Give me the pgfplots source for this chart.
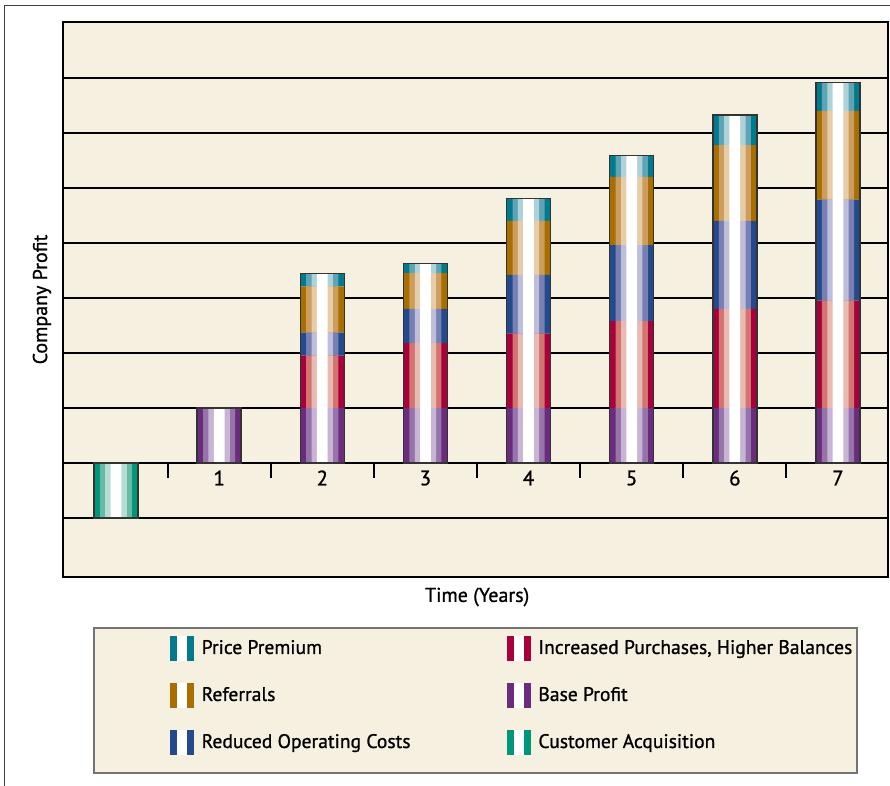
\documentclass[border=0pt]{standalone}
\usepackage{pgfplots}
\usepackage{pgfplotstable}
\pgfplotsset{compat=1.18}
\usepackage{fontspec}
\setmainfont{PT Sans}[FakeBold=1]

\definecolor{bg}{HTML}{F6F0E1}
\definecolor{ppD}{HTML}{007A8C}\definecolor{ppM}{HTML}{5FA4B4}\definecolor{ppL}{HTML}{AED2D8}
\definecolor{rfD}{HTML}{A86E00}\definecolor{rfM}{HTML}{CC9D5E}\definecolor{rfL}{HTML}{E6CDA8}
\definecolor{rcD}{HTML}{234A8D}\definecolor{rcM}{HTML}{7880B3}\definecolor{rcL}{HTML}{BEBDDA}
\definecolor{ipD}{HTML}{A8003A}\definecolor{ipM}{HTML}{D27570}\definecolor{ipL}{HTML}{E9BAB2}
\definecolor{bpD}{HTML}{6C2C7E}\definecolor{bpM}{HTML}{9673A8}\definecolor{bpL}{HTML}{C8B4D4}
\definecolor{caD}{HTML}{00967A}\definecolor{caM}{HTML}{69B9A5}\definecolor{caL}{HTML}{B6DDD4}

% year, customer acquisition, base profit, increased purchases, reduced operating costs, referrals, price premium, total
\pgfplotstableread{
x ca bp ip rc rf pp tot
0 -1 0 0 0 0 0 -1
1 0 1 0 0 0 0 1
2 0 1 0.95 0.42 0.84 0.24 3.45
3 0 1 1.18 0.62 0.65 0.18 3.63
4 0 1 1.35 1.07 0.98 0.41 4.81
5 0 1 1.58 1.38 1.24 0.39 5.59
6 0 1 1.80 1.60 1.38 0.55 6.33
7 0 1 1.95 1.84 1.61 0.52 6.92
}\profit

\pgfplotsset{
  layer/.style={scale only axis, width=412.5pt, height=277.5pt,
    at={(31.5pt,-288.5pt)}, anchor=south west,
    xmin=-0.514, xmax=7.485, ymin=-2.073, ymax=8.018},
  twobar/.style={legend image code/.code={
     \path[draw=none, fill=none] (0pt,-11.75pt) rectangle (12pt,11.75pt);
     \fill[white, draw=none] (3.5pt,-6.25pt) rectangle (8.5pt,6.25pt);
     \fill[#1, draw=none] (0pt,-6.25pt) rectangle (3.5pt,6.25pt);
     \fill[#1, draw=none] (8.5pt,-6.25pt) rectangle (12pt,6.25pt);}},
}

\begin{document}
\begin{tikzpicture}
\useasboundingbox (0,0) rectangle (445pt,-393pt);
\draw[black!75, line width=0.8pt] (2.25pt,-400pt) -- (2.25pt,-2.85pt) -- (450pt,-2.85pt);
\draw[fill=bg, draw=black!55, line width=0.8pt] (47pt,-314pt) rectangle (428.5pt,-386.5pt);

% layer 1: axis, grid, dark stripes, legend
\begin{axis}[layer,
  axis background/.style={fill=bg},
  axis line style={black, line width=1pt},
  ytick={-1,0,1,2,3,4,5,6,7}, yticklabels={},
  ymajorgrids, grid style={black, line width=1pt},
  major tick length=0pt,
  xtick={1,2,3,4,5,6,7}, xticklabels={1,2,3,4,5,6,7},
  xticklabel style={anchor=center, yshift=49.5pt, font=\fontsize{10.5}{12}\selectfont},
  xlabel={Time (Years)}, ylabel={Company Profit},
  xlabel style={at={(axis description cs:0.502,-0.036)}, anchor=center, font=\fontsize{10}{12}\selectfont},
  ylabel style={at={(axis description cs:-0.0255,0.5)}, anchor=center, font=\fontsize{10}{12}\selectfont},
  ybar stacked, bar width=22pt,
  legend columns=2, legend cell align=left,
  legend style={at={(axis description cs:0.1297,-0.0865)}, anchor=north west,
    draw=none, fill=none, inner sep=0pt, outer sep=0pt, row sep=0pt,
    nodes={inner xsep=0pt, inner ysep=0pt, font=\fontsize{9.8}{11}\selectfont},
    /tikz/every odd column/.append style={column sep=3.85pt},
    /tikz/every even column/.append style={column sep=0pt}},
]
\addplot[forget plot, fill=caD, draw=none] table[x=x,y=ca]{\profit};
\addplot[forget plot, fill=bpD, draw=none] table[x=x,y=bp]{\profit};
\addplot[forget plot, fill=ipD, draw=none] table[x=x,y=ip]{\profit};
\addplot[forget plot, fill=rcD, draw=none] table[x=x,y=rc]{\profit};
\addplot[forget plot, fill=rfD, draw=none] table[x=x,y=rf]{\profit};
\addplot[forget plot, fill=ppD, draw=none] table[x=x,y=pp]{\profit};
\pgfplotsinvokeforeach{0.5,1.5,2.5,3.5,4.5,5.5,6.5}{
  \draw[black, line width=1pt] (axis cs:#1,0) -- ([yshift=-7.5pt]axis cs:#1,0);}
\addlegendimage{twobar=ppD}\addlegendentry{\makebox[152.5pt][l]{Price Premium}}
\addlegendimage{twobar=ipD}\addlegendentry{Increased Purchases, Higher Balances}
\addlegendimage{twobar=rfD}\addlegendentry{\makebox[152.5pt][l]{Referrals}}
\addlegendimage{twobar=bpD}\addlegendentry{Base Profit}
\addlegendimage{twobar=rcD}\addlegendentry{\makebox[152.5pt][l]{Reduced Operating Costs}}
\addlegendimage{twobar=caD}\addlegendentry{Customer Acquisition}
\end{axis}

% layer 2: medium stripes
\begin{axis}[layer, hide axis, ybar stacked, bar width=16.06pt]
\addplot[fill=caM, draw=none] table[x=x,y=ca]{\profit};
\addplot[fill=bpM, draw=none] table[x=x,y=bp]{\profit};
\addplot[fill=ipM, draw=none] table[x=x,y=ip]{\profit};
\addplot[fill=rcM, draw=none] table[x=x,y=rc]{\profit};
\addplot[fill=rfM, draw=none] table[x=x,y=rf]{\profit};
\addplot[fill=ppM, draw=none] table[x=x,y=pp]{\profit};
\end{axis}

% layer 3: light stripes
\begin{axis}[layer, hide axis, ybar stacked, bar width=10.67pt]
\addplot[fill=caL, draw=none] table[x=x,y=ca]{\profit};
\addplot[fill=bpL, draw=none] table[x=x,y=bp]{\profit};
\addplot[fill=ipL, draw=none] table[x=x,y=ip]{\profit};
\addplot[fill=rcL, draw=none] table[x=x,y=rc]{\profit};
\addplot[fill=rfL, draw=none] table[x=x,y=rf]{\profit};
\addplot[fill=ppL, draw=none] table[x=x,y=pp]{\profit};
\end{axis}

% layer 4: white highlight and outline
\begin{axis}[layer, hide axis]
\addplot[ybar, bar shift=0pt, bar width=5.39pt, fill=white, draw=none] table[x=x,y=tot]{\profit};
\addplot[ybar, bar shift=0pt, bar width=22pt, fill=none, draw=black!80, line width=0.7pt] table[x=x,y=tot]{\profit};
\end{axis}
\end{tikzpicture}
\end{document}
